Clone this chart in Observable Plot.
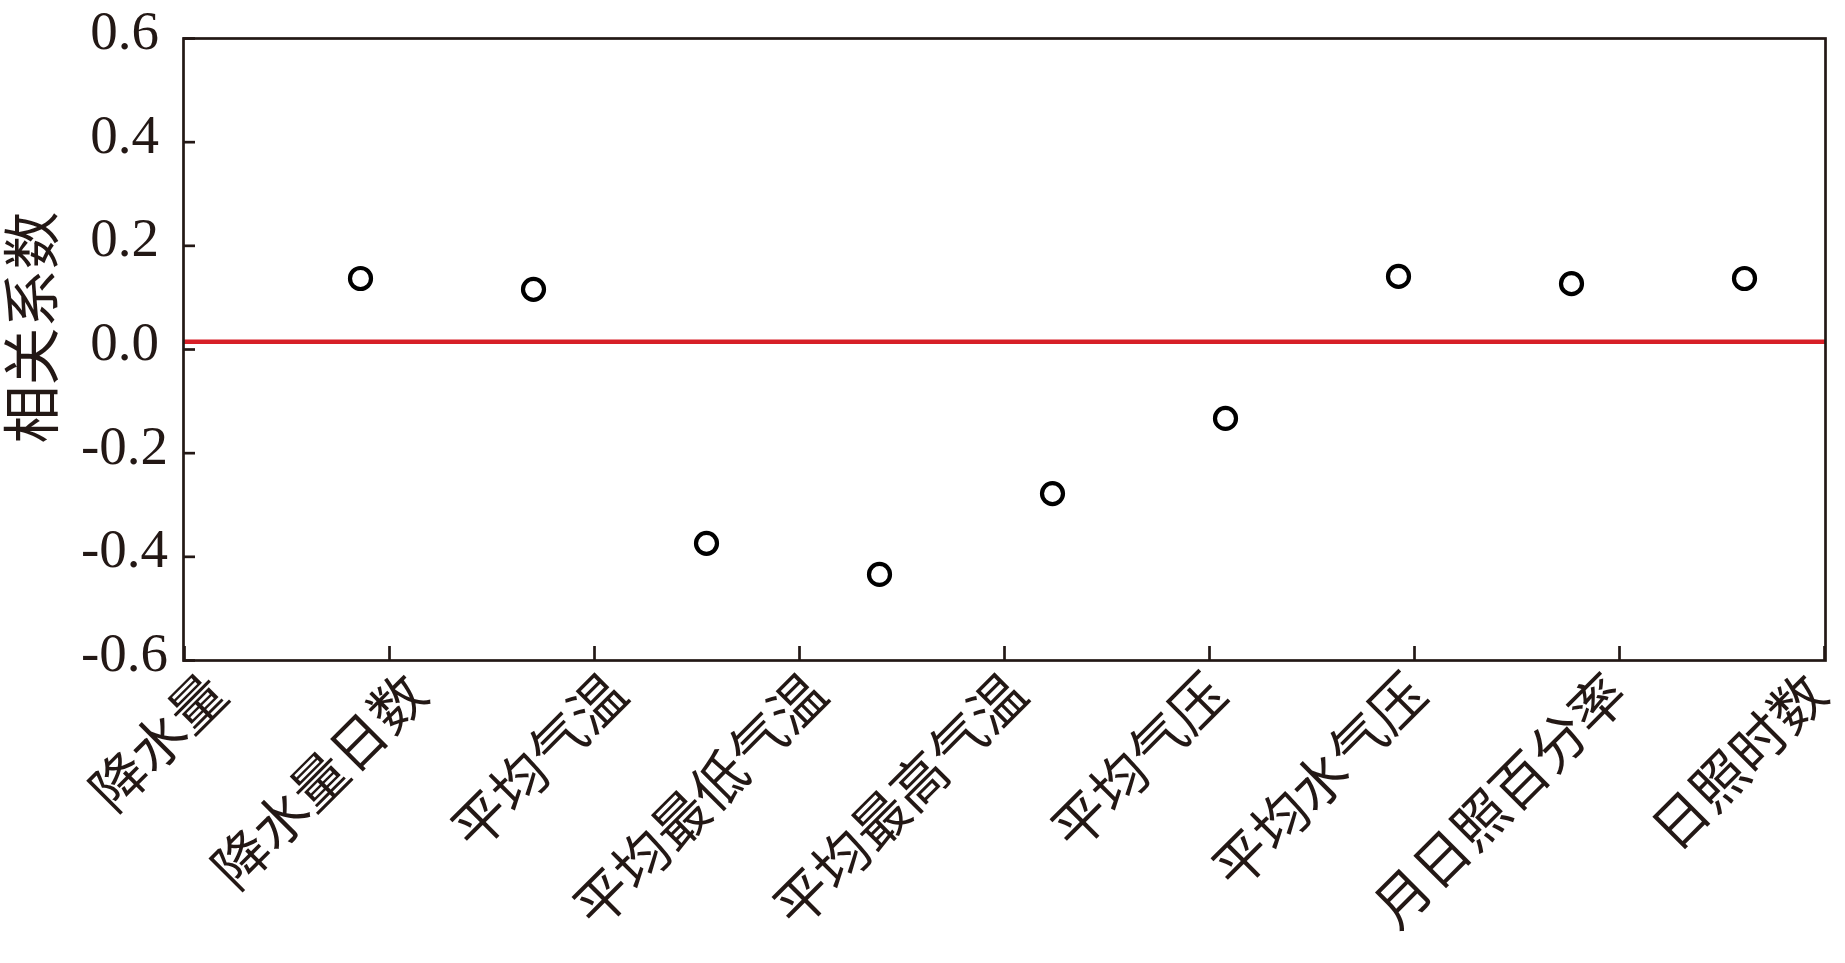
<!DOCTYPE html>
<html>
<head>
<meta charset="utf-8">
<script src="https://cdn.jsdelivr.net/npm/d3@7"></script>
<script src="https://cdn.jsdelivr.net/npm/@observablehq/plot@0.6"></script>
<style>
  html, body { margin: 0; padding: 0; background: #ffffff; }
  #chart { position: relative; width: 1845px; height: 963px; }
  #chart > svg { position: absolute; left: 0; top: 0; }
</style>
</head>
<body>
<div id="chart"></div>
<script>
// ---- data ----
const categories = ["降水量", "降水量日数", "平均气温", "平均最低气温", "平均最高气温", "平均气压", "平均水气压", "月日照百分率", "日照时数"];
const correlations = [0.137, 0.116, -0.374, -0.434, -0.278, -0.133, 0.141, 0.127, 0.137];
const yTicks = [-0.6, -0.4, -0.2, 0.0, 0.2, 0.4, 0.6];
const yDomain = [-0.6, 0.6];
const referenceLine = [0.015];
const yTitle = "相关系数";

const rows = categories.map((c, i) => ({category: c, value: correlations[i]}));

// ---- layout ----
const W = 1845, H = 963;
const M = {marginLeft: 183, marginRight: 20, marginTop: 38, marginBottom: 303};
const innerW = W - M.marginLeft - M.marginRight;
const innerH = H - M.marginTop - M.marginBottom;
const ink = "#231815";
const serif = "'Liberation Serif', 'DejaVu Serif', serif";
const cjk = "'Noto Sans CJK SC', sans-serif";

const common = {width: W, height: H, ...M, style: {background: "transparent", overflow: "visible"}};

// Base layer: frame, axes, reference line
const base = Plot.plot({
  ...common,
  x: {type: "point", domain: categories, padding: 0, axis: null},
  y: {domain: yDomain, axis: null},
  marks: [
    Plot.ruleY(referenceLine, {y: d => d, stroke: "#d71f27", strokeWidth: 4.5}),
    Plot.ruleX(categories, {x: d => d, insetTop: innerH - 14, stroke: ink, strokeWidth: 2.7}),
    Plot.ruleY(yTicks, {y: d => d, insetRight: innerW - 12, stroke: ink, strokeWidth: 2.7}),
    Plot.axisY(yTicks, {
      tickSize: 0, tickPadding: 59, textAnchor: "middle", dy: -7,
      tickFormat: d => d.toFixed(1), fontSize: 55, fontFamily: serif, fill: ink, label: null
    }),
    Plot.frame({stroke: ink, strokeWidth: 2.7}),
    Plot.text([yTitle], {text: d => d, frameAnchor: "left", textAnchor: "middle", rotate: -90, dx: -149, dy: -22,
      fontSize: 58, fontFamily: cjk, fill: ink})
  ]
});

// Dots layer
const dots = Plot.plot({
  ...common,
  x: {type: "point", domain: categories, padding: 0.7255, align: 0.686, axis: null},
  y: {domain: yDomain, axis: null},
  marks: [
    Plot.dot(rows, {x: "category", y: "value", r: 10.5, stroke: "#000000", strokeWidth: 4.2, fill: "none"})
  ]
});

// Category labels layer
const labels = Plot.plot({
  ...common,
  x: {type: "point", domain: categories, padding: 0.095, align: 0.84},
  y: {domain: yDomain, axis: null},
  marks: [
    Plot.axisX({tickSize: 0, tickPadding: 25, tickRotate: -45, fontSize: 55, fontFamily: cjk, fill: ink, label: null})
  ]
});

const chart = document.getElementById("chart");
chart.append(base, dots, labels);
</script>
</body>
</html>
